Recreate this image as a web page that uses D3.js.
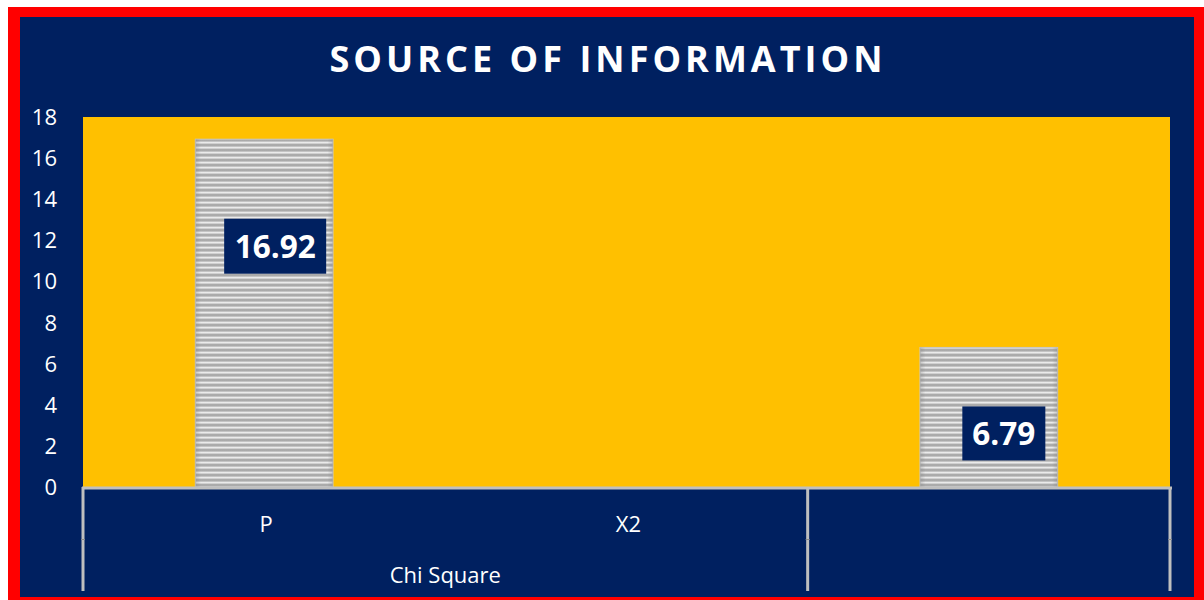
<!DOCTYPE html>
<html>
<head>
<meta charset="utf-8">
<script src="https://cdn.jsdelivr.net/npm/d3@7"></script>
<style>
  body { margin: 0; background: #ffffff; }
  svg { display: block; }
</style>
</head>
<body>
<script>
'use strict';

// chart data
const categories = ['P', 'X2', ''];
const values = [16.92, null, 6.79];
const groups = ['Chi Square', ''];
const groupSpans = [2, 1];
const yTicks = [0, 2, 4, 6, 8, 10, 12, 14, 16, 18];
const title = 'SOURCE OF INFORMATION';

(function() {
  const width = 1204;
  const height = 600;
  const navy = '#002060';
  const font = '"Open Sans", "Noto Sans", sans-serif';

  const plot = { left: 83, right: 1170, top: 117, bottom: 487 };
  // hand-placed data label offsets (dx, dy from bar top), as in the original
  const labelNudge = [[11, 107], null, [15, 86]];
  const labelBox = [[102, 55], null, [83, 54]];

  let svg = d3.select('body')
    .append('svg')
    .attr('width', width)
    .attr('height', height);

  // striped bar fill
  let defs = svg.append('defs');
  let grad = defs.append('linearGradient')
    .attr('id', 'stripe')
    .attr('x1', 0).attr('y1', 0).attr('x2', 0).attr('y2', 1);
  grad.append('stop').attr('offset', '0%').attr('stop-color', '#9e9e9e');
  grad.append('stop').attr('offset', '30%').attr('stop-color', '#c4c4c4');
  grad.append('stop').attr('offset', '55%').attr('stop-color', '#f4f4f4');
  grad.append('stop').attr('offset', '80%').attr('stop-color', '#b8b8b8');
  grad.append('stop').attr('offset', '100%').attr('stop-color', '#9e9e9e');
  let pat = defs.append('pattern')
    .attr('id', 'bars')
    .attr('patternUnits', 'userSpaceOnUse')
    .attr('width', 10).attr('height', 5);
  pat.append('rect').attr('width', 10).attr('height', 5).attr('fill', 'url(#stripe)');

  let edge = defs.append('linearGradient')
    .attr('id', 'edge')
    .attr('x1', 0).attr('y1', 0).attr('x2', 1).attr('y2', 0);
  edge.append('stop').attr('offset', '0%').attr('stop-color', '#808080').attr('stop-opacity', 0.35);
  edge.append('stop').attr('offset', '4%').attr('stop-color', '#808080').attr('stop-opacity', 0);
  edge.append('stop').attr('offset', '96%').attr('stop-color', '#808080').attr('stop-opacity', 0);
  edge.append('stop').attr('offset', '100%').attr('stop-color', '#808080').attr('stop-opacity', 0.35);

  // frame
  svg.append('rect')
    .attr('x', 8).attr('y', 7)
    .attr('width', width - 8).attr('height', height - 7)
    .attr('fill', '#ff0000');
  svg.append('rect')
    .attr('x', 20).attr('y', 17)
    .attr('width', 1174).attr('height', 580)
    .attr('fill', navy);

  svg.append('text')
    .attr('x', 606)
    .attr('y', 72)
    .attr('text-anchor', 'middle')
    .attr('textLength', 553)
    .attr('lengthAdjust', 'spacing')
    .style('font-family', font)
    .style('font-weight', 'bold')
    .style('font-size', '36px')
    .attr('fill', '#ffffff')
    .text(title);

  // scales
  let xScale = d3.scaleBand()
    .domain(d3.range(categories.length))
    .range([plot.left, plot.right])
    .padding(0);

  let yScale = d3.scaleLinear()
    .domain([0, 18])
    .range([plot.bottom, plot.top]);

  svg.append('rect')
    .attr('x', plot.left).attr('y', plot.top)
    .attr('width', plot.right - plot.left)
    .attr('height', plot.bottom - plot.top)
    .attr('fill', '#ffc000');

  // y axis (labels only)
  let yAxis = d3.axisLeft(yScale)
    .tickValues(yTicks)
    .tickSize(0)
    .tickPadding(0);
  let yg = svg.append('g')
    .attr('transform', 'translate(57, 0)')
    .call(yAxis);
  yg.select('.domain').remove();
  yg.selectAll('text')
    .attr('fill', '#ffffff')
    .attr('dy', '0.34em')
    .style('font-family', font)
    .style('font-size', '22px');

  // bars
  let barW = xScale.bandwidth() * 0.38;
  let rows = values.map((v, i) => ({ v: v, i: i })).filter(d => d.v !== null);

  let bars = svg.selectAll('.bar')
    .data(rows)
    .enter()
    .append('g')
      .attr('class', 'bar');
  bars.append('rect')
    .attr('x', d => xScale(d.i) + xScale.bandwidth() / 2 - barW / 2)
    .attr('y', d => yScale(d.v))
    .attr('width', barW)
    .attr('height', d => yScale(0) - yScale(d.v))
    .attr('fill', 'url(#bars)')
    .attr('stroke', '#c8c8c8')
    .attr('stroke-width', 1);
  bars.append('rect')
    .attr('x', d => xScale(d.i) + xScale.bandwidth() / 2 - barW / 2)
    .attr('y', d => yScale(d.v))
    .attr('width', barW)
    .attr('height', d => yScale(0) - yScale(d.v))
    .attr('fill', 'url(#edge)');

  // value labels
  let labels = svg.selectAll('.lbl')
    .data(rows)
    .enter()
    .append('g')
      .attr('class', 'lbl')
      .attr('transform', d => {
        let cx = xScale(d.i) + xScale.bandwidth() / 2 + labelNudge[d.i][0];
        let cy = yScale(d.v) + labelNudge[d.i][1];
        return 'translate(' + cx + ',' + cy + ')';
      });
  labels.append('rect')
    .attr('x', d => -labelBox[d.i][0] / 2)
    .attr('y', d => -labelBox[d.i][1] / 2)
    .attr('width', d => labelBox[d.i][0])
    .attr('height', d => labelBox[d.i][1])
    .attr('fill', navy);
  labels.append('text')
    .attr('text-anchor', 'middle')
    .attr('dy', '0.36em')
    .attr('fill', '#ffffff')
    .style('font-family', font)
    .style('font-weight', 'bold')
    .style('font-size', '31.5px')
    .text(d => d.v.toFixed(2));

  // category axis
  const axisColor = '#bfbfbf';
  svg.append('line')
    .attr('x1', plot.left - 1).attr('x2', plot.right + 2)
    .attr('y1', 488).attr('y2', 488)
    .attr('stroke', axisColor)
    .attr('stroke-width', 3);

  let bounds = [0];
  groupSpans.forEach(s => bounds.push(bounds[bounds.length - 1] + s));
  let edgeX = k => k < categories.length ? xScale(k) : plot.right;

  bounds.forEach(k => {
    let x = edgeX(k);
    svg.append('line')
      .attr('x1', x).attr('x2', x)
      .attr('y1', 487).attr('y2', 591)
      .attr('stroke', axisColor)
      .attr('stroke-width', 3);
    svg.append('line')
      .attr('x1', x - 2).attr('x2', x + 2)
      .attr('y1', 539.5).attr('y2', 539.5)
      .attr('stroke', '#8c8c8c')
      .attr('stroke-width', 1);
  });

  svg.selectAll('.cat')
    .data(categories)
    .enter()
    .append('text')
      .attr('class', 'cat')
      .attr('x', (d, i) => xScale(i) + xScale.bandwidth() / 2 + 2)
      .attr('y', 532)
      .attr('text-anchor', 'middle')
      .attr('fill', '#ffffff')
      .style('font-family', font)
      .style('font-size', '22px')
      .text(d => d);

  svg.selectAll('.grp')
    .data(groups)
    .enter()
    .append('text')
      .attr('class', 'grp')
      .attr('x', (d, i) => (edgeX(bounds[i]) + edgeX(bounds[i + 1])) / 2)
      .attr('y', 583)
      .attr('text-anchor', 'middle')
      .attr('fill', '#ffffff')
      .style('font-family', font)
      .style('font-size', '22px')
      .text(d => d);
})();
</script>
</body>
</html>
